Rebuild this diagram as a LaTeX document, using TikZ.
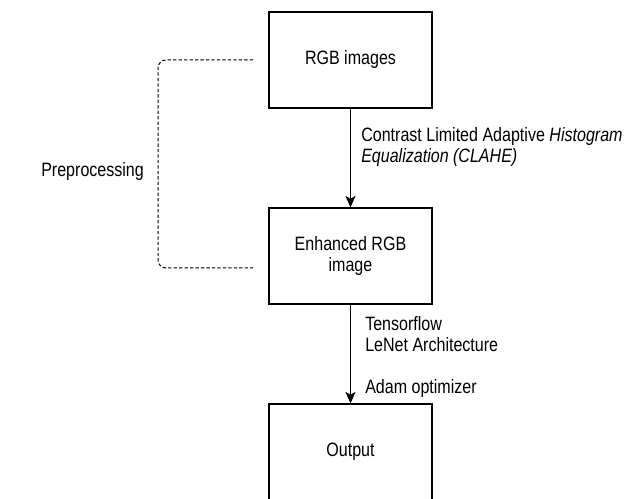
\documentclass[tikz,border=0pt]{standalone}
\usepackage{fontspec}
\setmainfont{Liberation Sans}
\usetikzlibrary{arrows.meta}
\newcommand{\narrowtext}[1]{\scalebox{0.83}[1]{#1}}

\begin{document}
\begin{tikzpicture}[x=0.75pt, y=-0.75pt,
	box/.style={draw, line width=1pt, minimum width=122.25pt, minimum height=72pt,
		align=center, font=\fontsize{14.5}{16}\selectfont},
	lbl/.style={anchor=west, inner sep=0pt, align=left, font=\fontsize{14.5}{16}\selectfont},
	flow/.style={line width=1pt, -{Stealth[length=8.5pt,width=7.5pt,inset=2pt]}}]
		
		\useasboundingbox (0,0) rectangle (626,499);
		
		% boxes
		\node[box] (rgb) at (350.5,60) {\narrowtext{RGB images}};
		\node[box] (enh) at (350.5,256) {\narrowtext{Enhanced RGB}\\\narrowtext{image}};
		\node[box] (out) at (350.5,452) {\narrowtext{Output}};
		
		% arrows
		\draw[flow] (rgb) -- (enh);
		\draw[flow] (enh) -- (out);
		
		% labels of the arrows
		\node[lbl] (clahe) at (361,147) {\narrowtext{Contrast Limited Adaptive \textit{Histogram}}\\\narrowtext{\textit{Equalization (CLAHE)}}};
		\node[lbl] (lenet) at (365,334) {\narrowtext{Tensorflow}\\\narrowtext{LeNet Architecture}};
		\node[lbl] (adam) at (365,389) {\narrowtext{Adam optimizer}};
		
		% preprocessing bracket
		\coordinate (pretop) at (253,60);
		\coordinate (prebot) at (253,268);
		\draw[line width=0.75pt, dash pattern=on 2.5pt off 1.6pt, rounded corners=6pt]
		(pretop) -- (158,60) -- (158,268) -- (prebot);
		\node[lbl] (pre) at (41,172) {\narrowtext{Preprocessing}};
		
	\end{tikzpicture}
\end{document}
